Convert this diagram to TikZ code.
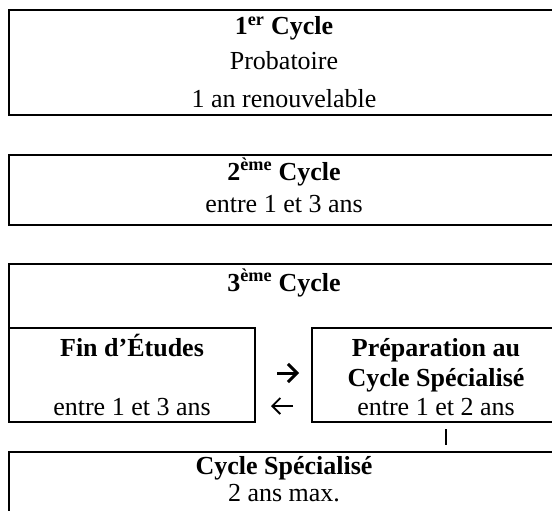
\documentclass[tikz,border=0pt]{standalone}
\usepackage{fontspec}
\setmainfont{Liberation Serif}
\usetikzlibrary{arrows.meta}
\tikzset{
  box/.style={draw=black, line width=1.6pt, anchor=north west, inner sep=0pt, outer sep=0pt},
  openbox/.style={anchor=north west, inner sep=0pt, outer sep=0pt},
  edge/.style={draw=black, line width=1.6pt},
  txt/.style={anchor=base, inner sep=0pt, font=\fontsize{26}{30}\selectfont},
  btxt/.style={txt, font=\fontsize{26}{30}\selectfont\bfseries},
}
\begin{document}
\begin{tikzpicture}[x=1pt,y=-1pt]
\useasboundingbox (0,0) rectangle (552,511);
\clip (0,0) rectangle (552,511);
% boxes
\node[box, minimum width=551pt, minimum height=105pt] (b1) at (9,10) {};
\node[box, minimum width=551pt, minimum height=70pt] (b2) at (9,155) {};
\node[openbox, minimum width=551pt, minimum height=64pt] (b3) at (9,264) {};
\draw[edge] (b3.south west) -- (b3.north west) -- (b3.north east) -- (b3.south east);
\node[box, minimum width=246pt, minimum height=94pt] (fin) at (9,328) {};
\node[box, minimum width=248pt, minimum height=94pt] (prep) at (312,328) {};
\node[box, minimum width=551pt, minimum height=90pt] (cs) at (9,452) {};
% texts
\node[btxt] (t1a) at (284,35) {1\textsuperscript{er} Cycle};
\node[txt] (t1b) at (284,70) {Probatoire};
\node[txt] (t1c) at (284,107) {1 an renouvelable};
\node[btxt] (t2a) at (284,180) {2\textsuperscript{ème} Cycle};
\node[txt] (t2b) at (284,212) {entre 1 et 3 ans};
\node[btxt] (t3a) at (284,291) {3\textsuperscript{ème} Cycle};
\node[btxt] (f1) at (132,356) {Fin d’Études};
\node[txt] (f2) at (132,415) {entre 1 et 3 ans};
\node[btxt] (p1) at (436,356) {Préparation au};
\node[btxt] (p2) at (436,386) {Cycle Spécialisé};
\node[txt] (p3) at (436,415) {entre 1 et 2 ans};
\node[btxt] (c1) at (284,474) {Cycle Spécialisé};
\node[txt] (c2) at (284,501) {2 ans max.};
% arrows
\coordinate (ra1) at (277,373);
\coordinate (ra2) at (299,373);
\coordinate (la1) at (293,406);
\coordinate (la2) at (271,406);
\draw[line width=3pt, -{Straight Barb[length=9pt,width=18pt,line width=3pt]}] (ra1) -- (ra2);
\draw[line width=1.8pt, -{Straight Barb[length=8pt,width=16pt,line width=1.8pt]}] (la1) -- (la2);
% small tick
\coordinate (tk1) at (446,429);
\coordinate (tk2) at (446,445);
\draw[line width=2pt] (tk1) -- (tk2);
\end{tikzpicture}
\end{document}
